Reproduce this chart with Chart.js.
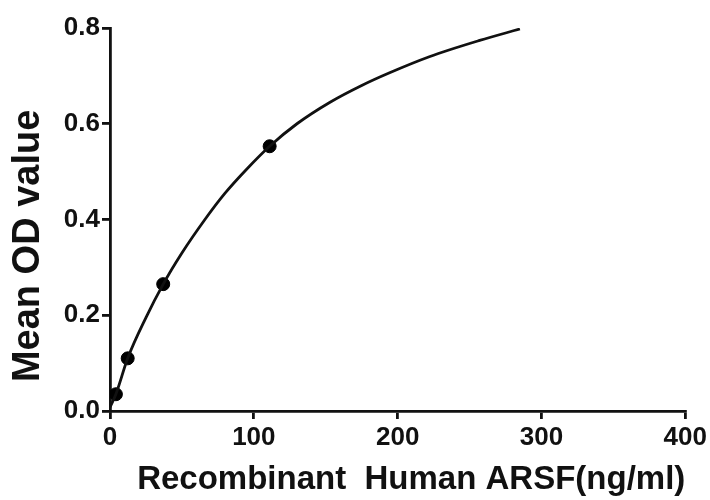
<!DOCTYPE html>
<html>
<head>
<meta charset="utf-8">
<script src="https://cdn.jsdelivr.net/npm/chart.js@4"></script>
<style>
  html, body { margin: 0; padding: 0; background: #fff; }
  #wrap { width: 710px; height: 500px; }
</style>
</head>
<body>
<div id="wrap"><canvas id="curveChart" width="710" height="500"></canvas></div>
<script>
// standards (ng/ml) and their mean OD
const standardConc = [4.1, 12.3, 37, 111];
const standardOD = [0.035, 0.11, 0.265, 0.553];

// fitted curve
const curveConc = [0, 4.1, 12.3, 25, 37, 50, 66, 80, 95, 111, 130, 153, 175, 194, 222, 257, 285];
const curveOD = [0.008, 0.035, 0.11, 0.195, 0.265, 0.33, 0.40, 0.455, 0.505, 0.553, 0.60, 0.645, 0.68, 0.706, 0.74, 0.774, 0.798];

const xTicks = [0, 100, 200, 300, 400];
const yTicks = [0, 0.2, 0.4, 0.6, 0.8];

const toPoints = (xs, ys) => xs.map((x, i) => ({ x: x, y: ys[i] }));

const fam = 'Liberation Sans, Arial, sans-serif';
const tickFont = { family: fam, size: 26, weight: 'bold' };

new Chart(document.getElementById('curveChart'), {
  type: 'scatter',
  data: {
    datasets: [
      {
        label: 'curve',
        data: toPoints(curveConc, curveOD),
        showLine: true,
        borderColor: '#111',
        borderWidth: 2.8,
        pointRadius: 0,
        cubicInterpolationMode: 'monotone',
        fill: false
      },
      {
        label: 'standards',
        data: toPoints(standardConc, standardOD),
        backgroundColor: '#000',
        borderColor: '#000',
        pointRadius: 6.5
      }
    ]
  },
  options: {
    responsive: false,
    animation: false,
    layout: { padding: { top: 28, right: 24, bottom: 0, left: 6 } },
    scales: {
      x: {
        type: 'linear',
        min: 0,
        max: 400,
        afterBuildTicks: s => { s.ticks = xTicks.map(v => ({ value: v })); },
        afterFit: s => { s.height = 89; },
        grid: { drawOnChartArea: false, drawTicks: true, tickLength: 8, color: '#111', lineWidth: 2.8 },
        border: { color: '#111', width: 2.8 },
        ticks: { color: '#111', font: tickFont, padding: 3, maxRotation: 0 },
        title: { display: true, align: 'end', text: 'Recombinant  Human ARSF(ng/ml)', color: '#111', font: { family: fam, size: 33, weight: 'bold' }, padding: { top: 0, bottom: 0 } }
      },
      y: {
        min: 0,
        max: 0.8,
        afterBuildTicks: s => { s.ticks = yTicks.map(v => ({ value: v })); },
        afterFit: s => { s.width = 104; },
        grid: { drawOnChartArea: false, drawTicks: true, tickLength: 8, color: '#111', lineWidth: 2.8 },
        border: { color: '#111', width: 2.8 },
        ticks: { color: '#111', font: tickFont, padding: 2, callback: v => v.toFixed(1) },
        // trailing spaces push the rotated label down, as in the original
        title: { display: true, text: 'Mean OD value     ', color: '#111', font: { family: fam, size: 38, weight: 'bold' }, padding: { top: 0, bottom: 0 } }
      }
    },
    plugins: {
      legend: { display: false },
      tooltip: { enabled: false }
    }
  }
});
</script>
</body>
</html>
